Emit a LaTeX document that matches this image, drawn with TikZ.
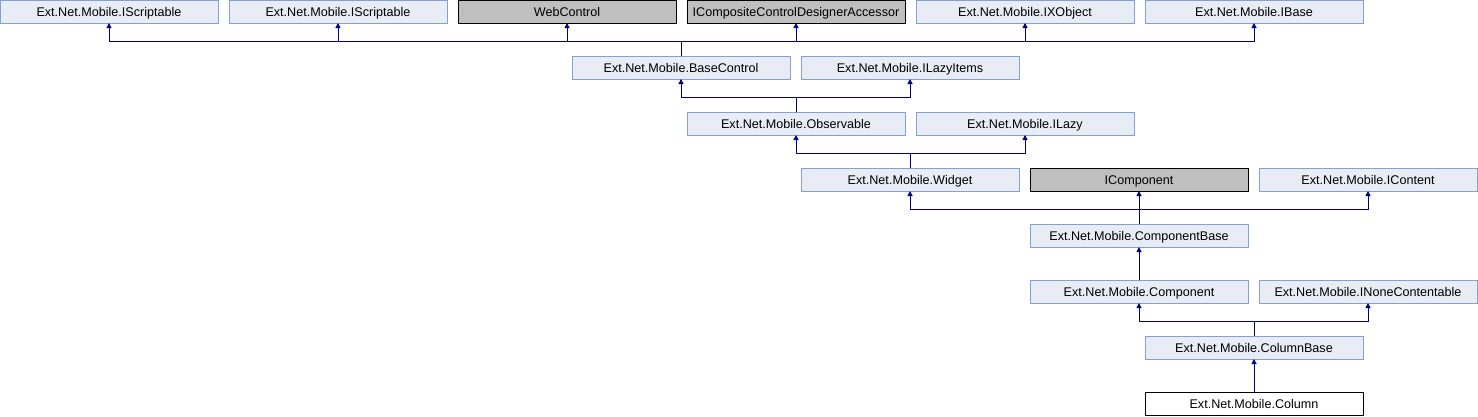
\documentclass[tikz,border=0pt]{standalone}
\usepackage{fontspec}
\setmainfont{Liberation Sans}
\usepackage{tikz}
\usetikzlibrary{positioning, arrows.meta}
\definecolor{boxFill}{RGB}{232,236,245}
\definecolor{boxLine}{RGB}{132,160,208}
\definecolor{extFill}{RGB}{191,191,191}
\definecolor{inhBlue}{RGB}{0,0,128}

\begin{document}
\begin{tikzpicture}[
  x=1pt, y=-1pt,
  cls/.style={draw=boxLine, fill=boxFill, line width=1pt, minimum width=218pt,
    minimum height=23pt, inner sep=0pt, outer sep=0pt,
    text height=11pt, text depth=2pt,
    font=\fontsize{12.6}{14}\selectfont},
  ext/.style={cls, draw=black, fill=extFill},
  cur/.style={cls, draw=black, fill=white},
  inh/.style={draw=inhBlue, line width=1pt, -{Triangle[length=5pt,width=5pt]}},
]
  \useasboundingbox (0,0) rectangle (1478,416);
  % row 1
  \node[cls] (iscriptA)   at (109, 11.5)  {Ext.Net.Mobile.IScriptable};
  \node[cls] (iscriptB)   at (338, 11.5)  {Ext.Net.Mobile.IScriptable};
  \node[ext] (webcontrol) at (567, 11.5)  {WebControl};
  \node[ext] (iccda)      at (796, 11.5)  {ICompositeControlDesignerAccessor};
  \node[cls] (ixobject)   at (1025, 11.5) {Ext.Net.Mobile.IXObject};
  \node[cls] (ibase)      at (1254, 11.5) {Ext.Net.Mobile.IBase};
  % row 2
  \node[cls] (basecontrol) at (681, 67.5) {Ext.Net.Mobile.BaseControl};
  \node[cls] (ilazyitems)  at (910, 67.5) {Ext.Net.Mobile.ILazyItems};
  % row 3
  \node[cls] (observable) at (796, 123.5)  {Ext.Net.Mobile.Observable};
  \node[cls] (ilazy)      at (1025, 123.5) {Ext.Net.Mobile.ILazy};
  % row 4
  \node[cls] (widget)     at (910, 179.5)  {Ext.Net.Mobile.Widget};
  \node[ext] (icomponent) at (1139, 179.5) {IComponent};
  \node[cls] (icontent)   at (1368, 179.5) {Ext.Net.Mobile.IContent};
  % rows 5 to 8
  \node[cls] (componentbase) at (1139, 235.5) {Ext.Net.Mobile.ComponentBase};
  \node[cls] (component)     at (1139, 291.5) {Ext.Net.Mobile.Component};
  \node[cls] (inonecont)     at (1368, 291.5) {Ext.Net.Mobile.INoneContentable};
  \node[cls] (columnbase)    at (1254, 347.5) {Ext.Net.Mobile.ColumnBase};
  \node[cur] (column)        at (1254, 403.5) {Ext.Net.Mobile.Column};

  % inheritance
  \foreach \p in {iscriptA, iscriptB, webcontrol, iccda, ixobject, ibase}
    \draw[inh] (basecontrol.north) -- ++(0,-15) -| (\p.south);
  \foreach \p in {basecontrol, ilazyitems}
    \draw[inh] (observable.north) -- ++(0,-15) -| (\p.south);
  \foreach \p in {observable, ilazy}
    \draw[inh] (widget.north) -- ++(0,-15) -| (\p.south);
  \foreach \p in {widget, icomponent, icontent}
    \draw[inh] (componentbase.north) -- ++(0,-15) -| (\p.south);
  \draw[inh] (component.north) -- (componentbase.south);
  \foreach \p in {component, inonecont}
    \draw[inh] (columnbase.north) -- ++(0,-15) -| (\p.south);
  \draw[inh] (column.north) -- (columnbase.south);
\end{tikzpicture}
\end{document}
